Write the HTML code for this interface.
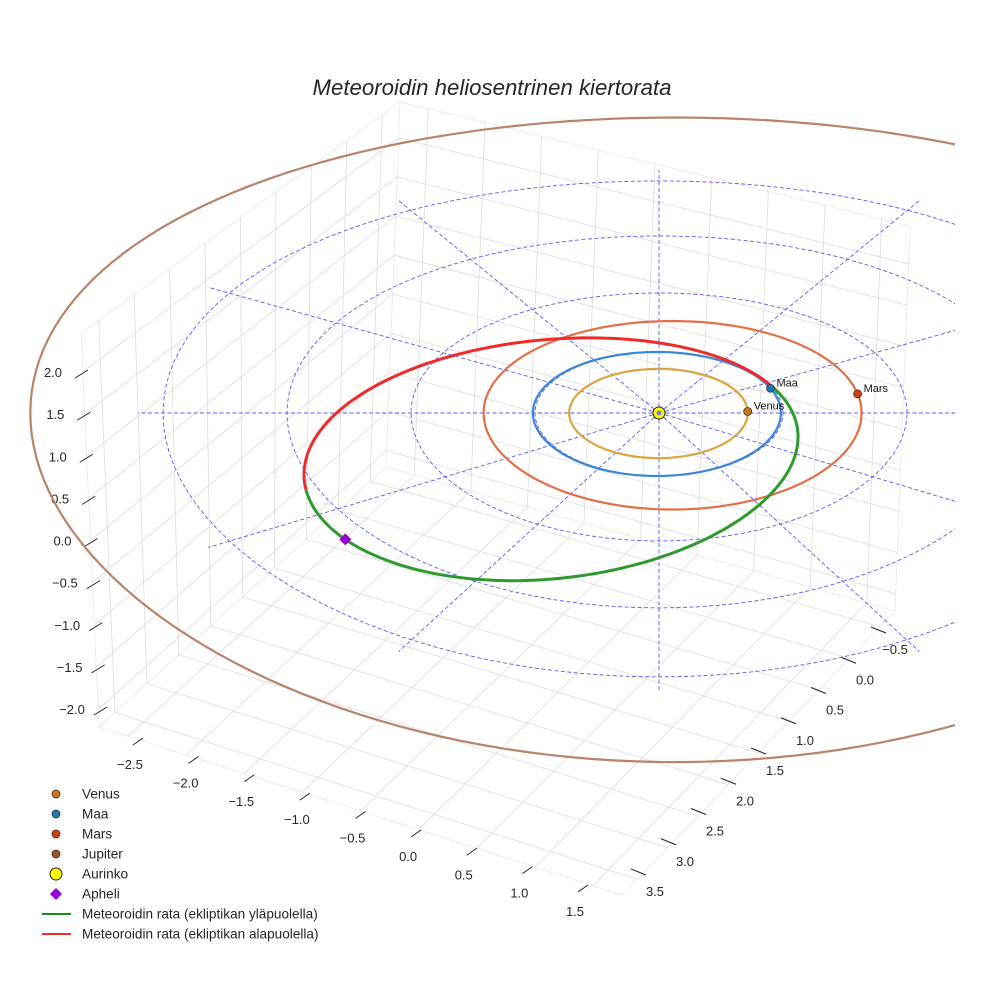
<!DOCTYPE html>
<html><head><meta charset="utf-8"><style>
html,body{margin:0;padding:0;background:#fff;}
svg{display:block;font-family:"Liberation Sans",sans-serif;}
</style></head><body>
<svg id="chart" width="984" height="984" viewBox="0 0 984 984" xmlns="http://www.w3.org/2000/svg">
<defs><clipPath id="axclip"><rect x="0" y="0" width="955" height="984"/></clipPath></defs>
<text x="492" y="95" text-anchor="middle" font-size="22.2" font-style="italic" fill="#262626">Meteoroidin heliosentrinen kiertorata</text>
<g id="grid"></g>
<g id="ticks"></g>
<g id="plot" clip-path="url(#axclip)"></g>
<g id="legend"></g>
</svg>
<script>
// ---- data ----
const aTicks = [-2.5,-2.0,-1.5,-1.0,-0.5,0.0,0.5,1.0,1.5];
const bTicks = [-0.5,0.0,0.5,1.0,1.5,2.0,2.5,3.0,3.5];
const zTicks = [2.0,1.5,1.0,0.5,0.0,-0.5,-1.0,-1.5,-2.0];
const planetNames = ["Venus","Maa","Mars","Jupiter"];
const orbitA = [0.72, 1.0, 1.524, 5.2];
const orbitE = [0.006, 0.017, 0.072, 0.025];
const orbitW = [0, 0, 180, 180];
const planetAngle = [2, 24, 11, 60];
const orbitColors = ["#d9a441","#3a86d4","#e07048","#b9836a"];
const pointColors = ["#c8781a","#1f77b4","#cc4411","#a0522d"];
const gridRadii = [1,2,3,4];
const spokeAngles = [0,30,60,90,120,150,180,210,240,270,300,330];
const spokeLen = 4.2;
const metA = 2.105, metE = 0.525, metW = 38;
const redFrom = 24, redTo = 203;

// ---- axes geometry ----
const amin=-2.75, amax=1.75, bmin=-0.75, bmax=3.75, zmin=-2.21, zmax=2.46;
const NS="http://www.w3.org/2000/svg";
function el(tag, attrs, parent){const e=document.createElementNS(NS,tag);for(const k in attrs)e.setAttribute(k,attrs[k]);parent.appendChild(e);return e;}
function bil(c00,c10,c01,c11,u,v){return [
 c00[0]*(1-u)*(1-v)+c10[0]*u*(1-v)+c01[0]*(1-u)*v+c11[0]*u*v,
 c00[1]*(1-u)*(1-v)+c10[1]*u*(1-v)+c01[1]*(1-u)*v+c11[1]*u*v];}
const BB=[386,467], BT=[400,102], LB=[99,727], LT=[81,333], RB=[895,611], RT=[910,226], FB=[622,895];
const ua=a=>(a-amin)/(amax-amin), ub=b=>(b-bmin)/(bmax-bmin), uz=z=>(z-zmin)/(zmax-zmin);
const grid=document.getElementById('grid');
function gl(p,q,col,w){const l=el('line',{x1:p[0],y1:p[1],x2:q[0],y2:q[1],stroke:col||'#dcdcdc','stroke-width':w||0.8},grid);return l;}
[[BB,BT],[BB,LB],[BB,RB],[LB,LT],[LT,BT],[BT,RT],[RT,RB],[RB,FB],[LB,FB]].forEach(s=>{const l=gl(s[0],s[1],'#ececec',1);

});
bTicks.forEach(b=>{const l=gl(bil(BB,LB,BT,LT,ub(b),0),bil(BB,LB,BT,LT,ub(b),1));

});
zTicks.forEach(z=>{const l=gl(bil(BB,LB,BT,LT,0,uz(z)),bil(BB,LB,BT,LT,1,uz(z)));


const m=gl(bil(BB,RB,BT,RT,0,uz(z)),bil(BB,RB,BT,RT,1,uz(z)));

});
aTicks.forEach(a=>{const l=gl(bil(BB,RB,BT,RT,ua(a),0),bil(BB,RB,BT,RT,ua(a),1));


const f=gl(bil(BB,RB,LB,FB,ua(a),0),bil(BB,RB,LB,FB,ua(a),1));

});
bTicks.forEach(b=>{const f=gl(bil(BB,RB,LB,FB,0,ub(b)),bil(BB,RB,LB,FB,1,ub(b)));

});

// ---- tick labels ----
const tk=document.getElementById('ticks');
function lerp(p,q,t){return [p[0]+(q[0]-p[0])*t,p[1]+(q[1]-p[1])*t];}
function fmt(v){return (v<0?'\u2212':'')+Math.abs(v).toFixed(1);}
aTicks.forEach((a,i)=>{const t=(a+2.5)/4;const p=lerp([130,765],[575,912],t);
const tx=el('text',{x:p[0],y:p[1]+4,'text-anchor':'middle','font-size':13,fill:'#262626'},tk);tx.textContent=fmt(a);


const l=el('line',{x1:p[0]+3,y1:p[1]-20,x2:p[0]+13,y2:p[1]-27,stroke:'#222','stroke-width':1},tk);

});
bTicks.forEach(b=>{const t=(b+0.5)/4;const p=lerp([895,650],[655,892],t);
const tx=el('text',{x:p[0],y:p[1]+4,'text-anchor':'middle','font-size':13,fill:'#262626'},tk);tx.textContent=fmt(b);


const l=el('line',{x1:p[0]-24,y1:p[1]-23,x2:p[0]-9,y2:p[1]-17,stroke:'#222','stroke-width':1},tk);

});
zTicks.forEach(z=>{const t=(2-z)/4;const p=lerp([53,373],[72,710],t);
const tx=el('text',{x:p[0],y:p[1]+4,'text-anchor':'middle','font-size':13,fill:'#262626'},tk);tx.textContent=fmt(z);


const l=el('line',{x1:p[0]+22,y1:p[1]+5,x2:p[0]+35,y2:p[1]-3,stroke:'#222','stroke-width':1},tk);

});

// ---- orbital plane projection ----
function P(X,Y){return [659+124*X, 413-62*Y*(1-0.016*Y)];}
const rad=d=>d*Math.PI/180;
function orbitPt(a,e,w,th){const r=a*(1-e*e)/(1+e*Math.cos(rad(th-w)));return P(r*Math.cos(rad(th)),r*Math.sin(rad(th)));}
const plot=document.getElementById('plot');
function pathFrom(pts){return pts.map((p,i)=>(i?'L':'M')+p[0].toFixed(1)+' '+p[1].toFixed(1)).join('');}
gridRadii.forEach(r=>{const pts=[];for(let t=0;t<=360;t+=3)pts.push(P(r*Math.cos(rad(t)),r*Math.sin(rad(t))));
const p=el('path',{d:pathFrom(pts),fill:'none',stroke:'#5a5af0','stroke-width':0.9,'stroke-dasharray':'4 2.5'},plot);

});
spokeAngles.forEach(t=>{const q=P(spokeLen*Math.cos(rad(t)),spokeLen*Math.sin(rad(t)));const o=P(0,0);
const l=el('line',{x1:o[0],y1:o[1],x2:q[0],y2:q[1],stroke:'#5a5af0','stroke-width':0.9,'stroke-dasharray':'4 2.5'},plot);

});
planetNames.forEach((n,i)=>{const pts=[];for(let t=0;t<=360;t+=2)pts.push(orbitPt(orbitA[i],orbitE[i],orbitW[i],t));
const p=el('path',{d:pathFrom(pts),fill:'none',stroke:orbitColors[i],'stroke-width':2.2},plot);

});
let green=[],red=[];
for(let t=redTo;t<=redFrom+360;t+=1)green.push(orbitPt(metA,metE,metW,t));
for(let t=redFrom;t<=redTo;t+=1)red.push(orbitPt(metA,metE,metW,t));
const gp=el('path',{d:pathFrom(green),fill:'none',stroke:'#2e9a2e','stroke-width':3},plot);


const rp=el('path',{d:pathFrom(red),fill:'none',stroke:'#ee2b2b','stroke-width':3},plot);


planetNames.forEach((n,i)=>{const p=orbitPt(orbitA[i],orbitE[i],orbitW[i],planetAngle[i]);
const c=el('circle',{cx:p[0],cy:p[1],r:4,fill:pointColors[i],stroke:'#222','stroke-width':0.7},plot);


const tx=el('text',{x:p[0]+6,y:p[1]-2,'font-size':11,fill:'#111'},plot);tx.textContent=n;

});
const s=P(0,0);
const sun=el('circle',{cx:s[0],cy:s[1],r:6,fill:'#ffff00',stroke:'#222','stroke-width':1},plot);


el('circle',{cx:s[0],cy:s[1],r:2.5,fill:'#7a7adf'},plot);
const ap=orbitPt(metA,metE,metW,metW+180);
const apx=el('text',{x:ap[0],y:ap[1]+5,'text-anchor':'middle','font-size':14,'font-weight':'bold',fill:'#9a2bd6'},plot);apx.textContent='\u00d7';


const apd=el('path',{d:`M${ap[0]} ${ap[1]-6}L${ap[0]+6} ${ap[1]}L${ap[0]} ${ap[1]+6}L${ap[0]-6} ${ap[1]}Z`,fill:'#9400d3'},plot);



// ---- legend ----
const lg=document.getElementById('legend');
const legLabels=["Venus","Maa","Mars","Jupiter","Aurinko","Apheli","Meteoroidin rata (ekliptikan yläpuolella)","Meteoroidin rata (ekliptikan alapuolella)"];
legLabels.forEach((lab,i)=>{const y=794+i*20;
let m;
if(i<4)m=el('circle',{cx:56,cy:y,r:4,fill:pointColors[i],stroke:'#222','stroke-width':0.7},lg);
else if(i===4)m=el('circle',{cx:56,cy:y,r:6,fill:'#ffff00',stroke:'#222','stroke-width':1},lg);
else if(i===5)m=el('path',{d:`M56 ${y-6}L62 ${y}L56 ${y+6}L50 ${y}Z`,fill:'#9400d3'},lg);
else m=el('line',{x1:42,y1:y,x2:71,y2:y,stroke:i===6?'#1a8a1a':'#ee2b2b','stroke-width':2},lg);


const tx=el('text',{x:82,y:y+4.5,'font-size':13.6,fill:'#262626'},lg);tx.textContent=lab;

});
</script>
</body></html>
